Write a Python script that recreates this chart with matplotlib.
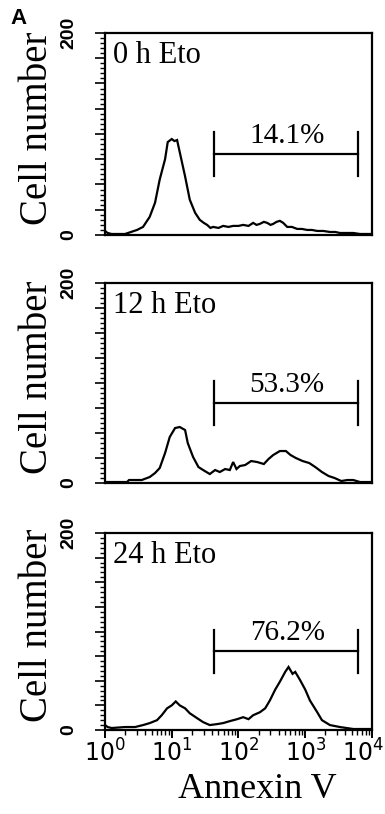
import numpy as np
import matplotlib
matplotlib.use("Agg")
import matplotlib.pyplot as plt
from matplotlib.ticker import MultipleLocator, FuncFormatter, LogLocator, NullFormatter

plt.rcParams["mathtext.fontset"] = "custom"
plt.rcParams["mathtext.rm"] = "Liberation Sans"

SERIF = "Liberation Serif"
NARROW = ["Liberation Sans Narrow", "Liberation Sans", "DejaVu Sans"]

# histogram traces: log10(Annexin V), cell number
log_0h = [0.0, 0.04, 0.1, 0.3, 0.48, 0.57, 0.67, 0.75, 0.82, 0.90, 0.94, 1.00, 1.04, 1.08,
          1.12, 1.20, 1.27, 1.35, 1.42, 1.48, 1.53, 1.58, 1.62, 1.70, 1.77, 1.85, 1.92,
          2.00, 2.07, 2.15, 2.22, 2.27, 2.32, 2.38, 2.43, 2.48, 2.52, 2.57, 2.62, 2.67,
          2.73, 2.80, 2.88, 2.95, 3.03, 3.10, 3.18, 3.27, 3.37, 3.45, 3.52, 3.62, 3.72,
          3.82, 3.93, 4.0]
cnt_0h = [4, 2, 1, 1, 5, 8, 18, 32, 55, 75, 92, 95, 93, 94,
          82, 58, 35, 22, 15, 12, 10, 7, 8, 7, 9, 8, 9,
          9, 10, 9, 12, 10, 11, 13, 12, 10, 11, 13, 14, 12,
          8, 8, 6, 6, 5, 5, 4, 4, 3, 3, 2, 2, 2,
          1, 1, 1]

log_12h = [0.0, 0.2, 0.33, 0.36, 0.4, 0.55, 0.67, 0.75, 0.82, 0.90, 0.97, 1.05, 1.12, 1.20,
           1.24, 1.32, 1.40, 1.47, 1.57, 1.65, 1.72, 1.80, 1.87, 1.92, 1.97, 2.02, 2.10,
           2.19, 2.28, 2.38, 2.45, 2.52, 2.62, 2.71, 2.78, 2.86, 2.96, 3.06, 3.15, 3.25,
           3.35, 3.44, 3.54, 3.63, 3.72, 3.82, 3.93, 4.0]
cnt_12h = [1, 1, 1, 3, 3, 3, 6, 10, 15, 30, 46, 55, 56, 53,
           40, 26, 16, 13, 9, 13, 11, 14, 13, 21, 14, 17, 18,
           22, 21, 19, 24, 28, 32, 32, 28, 25, 22, 20, 16, 11,
           7, 5, 2, 3, 3, 1, 1, 1]

log_24h = [0.0, 0.04, 0.1, 0.3, 0.45, 0.57, 0.67, 0.78, 0.85, 0.93, 1.00, 1.06, 1.12, 1.20,
           1.27, 1.38, 1.47, 1.57, 1.68, 1.77, 1.87, 1.98, 2.07, 2.15, 2.22, 2.32, 2.40,
           2.47, 2.55, 2.62, 2.70, 2.75, 2.81, 2.85, 2.92, 3.00, 3.07, 3.18, 3.25, 3.37,
           3.52, 3.62, 3.72, 3.85, 4.0]
cnt_24h = [5, 3, 2, 3, 3, 5, 7, 10, 15, 22, 25, 29, 25, 22,
           17, 12, 8, 5, 6, 7, 9, 11, 13, 11, 15, 18, 22,
           30, 41, 49, 59, 64, 57, 59, 51, 41, 30, 18, 10, 5,
           3, 2, 1, 1, 1]

traces = [(log_0h, cnt_0h), (log_12h, cnt_12h), (log_24h, cnt_24h)]
titles = ["0 h Eto", "12 h Eto", "24 h Eto"]
percents = ["14.1%", "53.3%", "76.2%"]
gate_lo, gate_hi = 43, 6200
gate_y = 80
gate_half = 22
decades = [0, 1, 2, 3, 4]

fig = plt.figure(figsize=(3.85, 8.14), dpi=100)
rects = [[0.2727, 0.7113, 0.6935, 0.2482],
         [0.2727, 0.4066, 0.6935, 0.2457],
         [0.2727, 0.1032, 0.6935, 0.2420]]

for i, ((lg, cnt), rect) in enumerate(zip(traces, rects)):
    ax = fig.add_axes(rect)
    ax.plot(10 ** np.array(lg), cnt, color="black", lw=1.6, solid_joinstyle="miter")
    ax.set_xscale("log")
    ax.set_xlim(1, 1e4)
    ax.set_ylim(0, 200)
    for s in ax.spines.values():
        s.set_linewidth(1.6)

    # gate marker
    ax.plot([gate_lo, gate_hi], [gate_y, gate_y], color="black", lw=1.6)
    for gx in (gate_lo, gate_hi):
        ax.plot([gx, gx], [gate_y - gate_half, gate_y + gate_half], color="black", lw=1.6)
    ax.text(10 ** 2.73, 91, percents[i], ha="center", va="baseline",
            fontsize=21, family=SERIF)
    ax.text(0.03, 0.85, titles[i], transform=ax.transAxes, ha="left", va="baseline",
            fontsize=22, family=SERIF)

    ax.yaxis.set_major_locator(MultipleLocator(25))
    ax.yaxis.set_minor_locator(MultipleLocator(5))
    ax.yaxis.set_major_formatter(FuncFormatter(
        lambda v, p: "0" if v == 0 else ("200" if v == 200 else "")))
    ax.tick_params(axis="y", which="major", length=7, width=1.2, pad=13, labelrotation=90)
    ax.tick_params(axis="y", which="minor", length=3.5, width=1.0)
    for lab in ax.get_yticklabels():
        lab.set_family(NARROW)
        lab.set_fontsize(14)
        lab.set_fontweight("bold")
        lab.set_va("center")
    ax.set_ylabel("Cell number", fontsize=28, family=SERIF)
    ax.yaxis.set_label_coords(-0.185, 0.53)

    if i < 2:
        ax.tick_params(axis="x", which="both", bottom=False, labelbottom=False)
    else:
        ax.xaxis.set_major_locator(LogLocator(base=10, numticks=10))
        ax.xaxis.set_minor_locator(LogLocator(base=10, subs=np.arange(2, 10), numticks=10))
        ax.xaxis.set_minor_formatter(NullFormatter())
        ax.xaxis.set_major_formatter(NullFormatter())
        ax.tick_params(axis="x", which="major", length=6, width=1.4)
        ax.tick_params(axis="x", which="minor", length=3.5, width=1.0)
        # decade labels drawn by hand so the last one can sit inside the figure edge
        for d in decades:
            lab = r"$\mathregular{10^{%d}}$" % d
            if d == decades[-1]:
                ax.text(1.0 + 12 / 267, -0.05, lab, transform=ax.transAxes,
                        ha="right", va="top", fontsize=17)
            else:
                ax.text(10 ** d, -0.05, lab, transform=ax.get_xaxis_transform(),
                        ha="center", va="top", fontsize=17)

fig.text(257 / 385, 1 - 790 / 814, "Annexin V", ha="center", va="center",
         fontsize=26, family=SERIF)
fig.text(10 / 385, 1 - 18 / 814, "A", ha="left", va="center", fontsize=16,
         fontweight="bold", family="Liberation Sans")

fig.savefig("out.png", dpi=100)
